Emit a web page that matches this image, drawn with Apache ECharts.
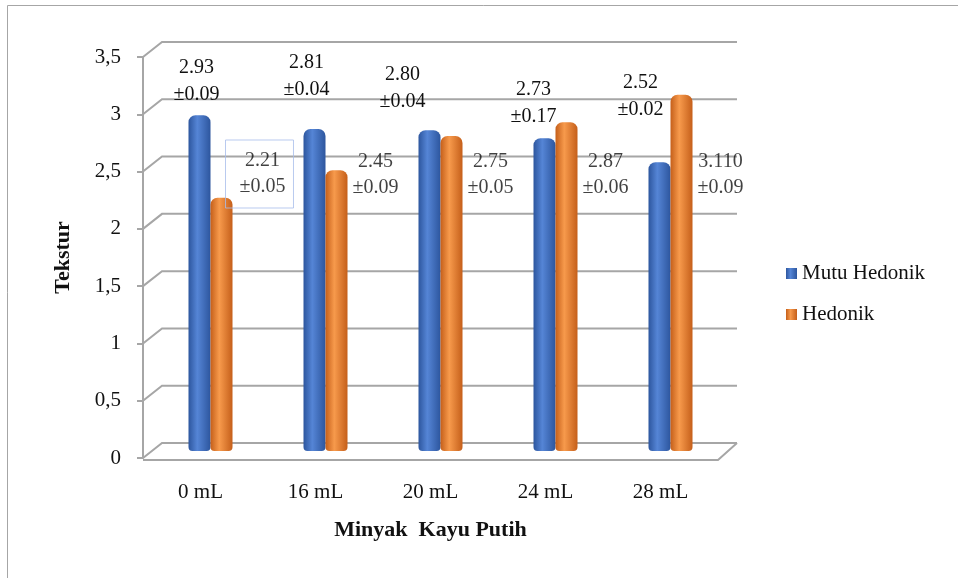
<!DOCTYPE html>
<html>
<head>
<meta charset="utf-8">
<script src="https://cdn.jsdelivr.net/npm/echarts@6/dist/echarts.min.js"></script>
<style>
  html, body { margin: 0; padding: 0; background: #fff; }
  #chart { width: 958px; height: 578px; }
</style>
</head>
<body>
<div id="chart"></div>
<script>
// data
var categories = ['0 mL', '16 mL', '20 mL', '24 mL', '28 mL'];
var mutuHedonik = [2.93, 2.81, 2.80, 2.73, 2.52];
var hedonik = [2.21, 2.45, 2.75, 2.87, 3.11];
var mutuText = ['2.93', '2.81', '2.80', '2.73', '2.52'];
var mutuSd = ['0.09', '0.04', '0.04', '0.17', '0.02'];
var hedonikText = ['2.21', '2.45', '2.75', '2.87', '3.110'];
var hedonikSd = ['0.05', '0.09', '0.05', '0.06', '0.09'];
var yTicks = [0, 0.5, 1, 1.5, 2, 2.5, 3, 3.5];

function cylinder(dark, light) {
    return {
        type: 'linear', x: 0, y: 0, x2: 1, y2: 0,
        colorStops: [
            { offset: 0, color: dark },
            { offset: 0.4, color: light },
            { offset: 1, color: dark }
        ]
    };
}

function getTekstur(divId) {
    var myChart = echarts.init(document.getElementById(divId));
    var font = 'Liberation Serif, Times New Roman, serif';
    var depthX = 19, depthY = 15;   // 3D tembok belakang
    // geser label mutu hedonik (px), seperti di gambar
    var mutuNudge = [[-3, -2], [-8, -21], [-27, -10], [-11, -3], [-19, -34]];

    var option = {
        animation: false,
        textStyle: { fontFamily: font },
        legend: {
            orient: 'vertical',
            left: 781,
            top: 258,
            itemWidth: 11,
            itemHeight: 11,
            itemGap: 20,
            icon: 'rect',
            data: ['Mutu Hedonik', 'Hedonik'],
            textStyle: { fontFamily: font, fontSize: 21, color: '#111' }
        },
        graphic: [{
            type: 'rect',
            shape: { x: 7.5, y: 5.5, width: 960, height: 600 },
            style: { fill: 'none', stroke: '#a6a6a6', lineWidth: 1 },
            silent: true
        }],
        grid: [
            { left: 143, top: 57, width: 575, height: 401 },
            { left: 153, top: 50, width: 575, height: 401 }
        ],
        xAxis: [{
            gridIndex: 0,
            type: 'category',
            data: categories,
            axisLine: { show: false },
            axisTick: { show: false },
            axisLabel: { margin: 24, fontSize: 21, color: '#111', fontFamily: font },
            name: 'Minyak  Kayu Putih',
            nameLocation: 'middle',
            nameGap: 61,
            nameTextStyle: { fontSize: 22, fontWeight: 'bold', color: '#111', fontFamily: font }
        }, {
            gridIndex: 1,
            type: 'category',
            data: categories,
            show: false
        }],
        yAxis: [{
            gridIndex: 0,
            type: 'value',
            min: 0,
            max: 3.5,
            interval: 0.5,
            axisLine: { show: true, lineStyle: { color: '#a6a6a6', width: 2 } },
            axisTick: { show: true, length: 6, lineStyle: { color: '#a6a6a6', width: 2 } },
            splitLine: { show: false },
            axisLabel: {
                margin: 22, fontSize: 21, color: '#111', fontFamily: font,
                formatter: function (v) { return String(v).replace('.', ','); }
            },
            name: 'Tekstur',
            nameLocation: 'middle',
            nameGap: 69,
            nameTextStyle: { fontSize: 22, fontWeight: 'bold', color: '#111', fontFamily: font }
        }, {
            gridIndex: 1,
            type: 'value',
            min: 0,
            max: 3.5,
            show: false
        }],
        series: [{
            // tembok belakang + lantai
            type: 'custom',
            xAxisIndex: 0,
            yAxisIndex: 0,
            clip: false,
            silent: true,
            z: 1,
            data: yTicks.map(function (v) { return [0, v]; }),
            renderItem: function (params, api) {
                var cs = params.coordSys;
                var y = api.coord([0, api.value(1)])[1];
                var x0 = cs.x;
                var x1 = cs.x + cs.width;
                var style = { stroke: '#a6a6a6', lineWidth: 2, fill: null };
                var children = [{
                    type: 'polyline',
                    shape: { points: [[x0, y], [x0 + depthX, y - depthY], [x1 + depthX, y - depthY]] },
                    style: style
                }];
                if (api.value(1) === 0) {
                    children.push({
                        type: 'polyline',
                        shape: { points: [[x0, y + 2], [x1, y + 2], [x1 + depthX, y - depthY]] },
                        style: style
                    });
                }
                return { type: 'group', children: children };
            }
        }, {
            name: 'Mutu Hedonik',
            type: 'bar',
            xAxisIndex: 1,
            yAxisIndex: 1,
            barWidth: 22,
            barGap: '0%',
            z: 3,
            itemStyle: { color: cylinder('#2d569e', '#5585d6'), borderRadius: [7, 7, 4, 4] },
            data: mutuHedonik.map(function (v, i) {
                return {
                    value: v,
                    label: { offset: mutuNudge[i] }
                };
            }),
            label: {
                show: true,
                position: 'top',
                distance: 5,
                fontSize: 20,
                lineHeight: 27,
                color: '#111',
                fontFamily: font,
                formatter: function (p) {
                    return mutuText[p.dataIndex] + '\n±' + mutuSd[p.dataIndex];
                }
            }
        }, {
            name: 'Hedonik',
            type: 'bar',
            xAxisIndex: 1,
            yAxisIndex: 1,
            barWidth: 22,
            barGap: '0%',
            z: 3,
            itemStyle: { color: cylinder('#c55f1a', '#f79a4c'), borderRadius: [7, 7, 4, 4] },
            data: hedonik
        }, {
            // label hedonik, di sebelah kanan batang
            type: 'scatter',
            xAxisIndex: 0,
            yAxisIndex: 0,
            symbolSize: 0,
            silent: true,
            z: 4,
            data: hedonikText.map(function (t, i) {
                var item = { value: [i, 2.47] };
                if (i === 0) {
                    item.label = {
                        borderColor: '#a8bdeb',
                        borderWidth: 1,
                        padding: [8, 8, 8, 14],
                        offset: [59, -1]
                    };
                }
                return item;
            }),
            label: {
                show: true,
                position: 'inside',
                offset: [60, 0],
                fontSize: 20,
                lineHeight: 26,
                color: '#111',
                fontFamily: font,
                formatter: function (p) {
                    return hedonikText[p.dataIndex] + '\n±' + hedonikSd[p.dataIndex];
                }
            }
        }]
    };
    myChart.clear();
    myChart.setOption(option);
    return myChart;
}

var myChart1 = getTekstur('chart');
</script>
</body>
</html>
